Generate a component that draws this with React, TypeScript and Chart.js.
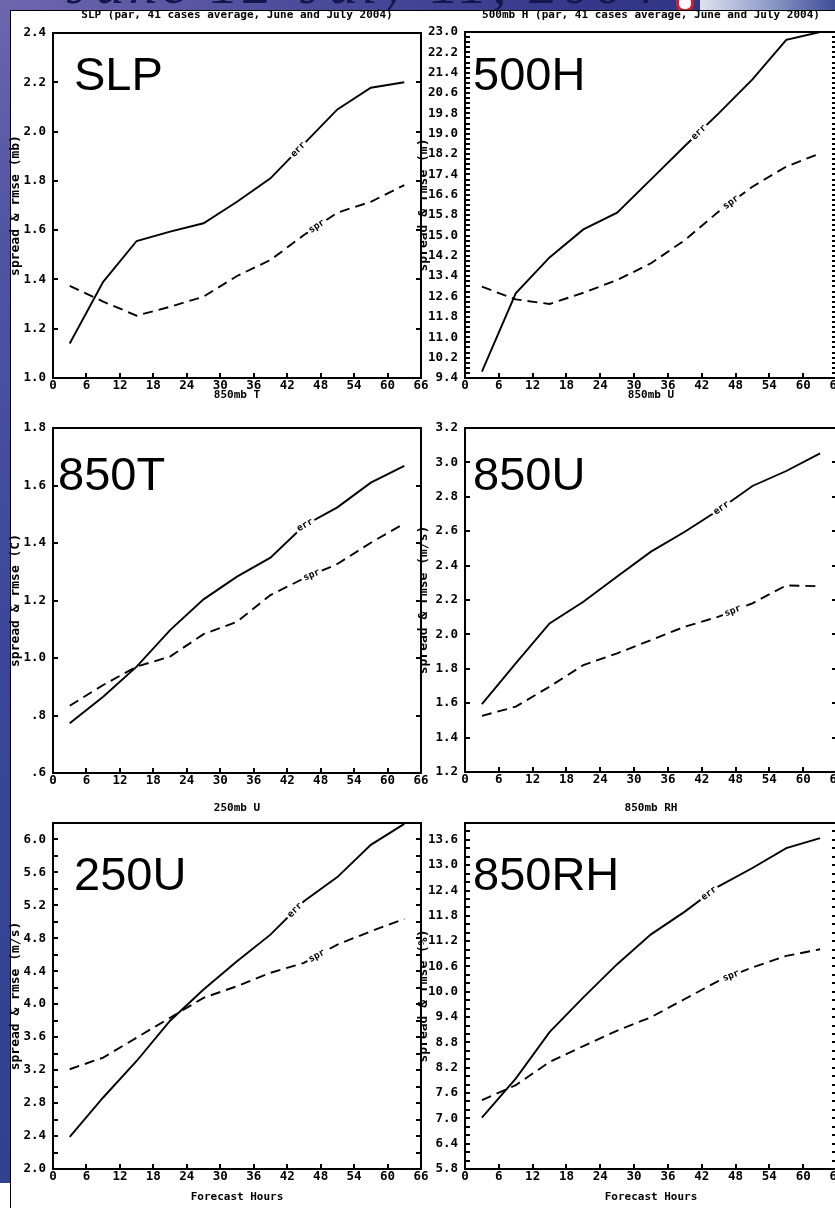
import React, { useEffect, useRef } from "react";
import { Chart, registerables } from "chart.js";

Chart.register(...registerables);

// ---------- data ----------
const forecastHours = [3, 9, 15, 21, 27, 33, 39, 45, 51, 57, 63];
const hourTicks = [0, 6, 12, 18, 24, 30, 36, 42, 48, 54, 60, 66];

const slpErr = [1.14, 1.39, 1.556, 1.594, 1.628, 1.715, 1.81, 1.95, 2.09, 2.178, 2.2];
const slpSpr = [1.374, 1.31, 1.253, 1.289, 1.33, 1.414, 1.479, 1.58, 1.671, 1.715, 1.783];
const slpTicks = [1.0, 1.2, 1.4, 1.6, 1.8, 2.0, 2.2, 2.4];

const h500Err = [9.65, 12.73, 14.14, 15.24, 15.9, 17.21, 18.52, 19.8, 21.14, 22.69, 23.0];
const h500Spr = [12.99, 12.49, 12.31, 12.75, 13.25, 13.91, 14.82, 15.94, 16.92, 17.71, 18.23];
const h500Ticks = [9.4, 10.2, 11.0, 11.8, 12.6, 13.4, 14.2, 15.0, 15.8, 16.6, 17.4, 18.2, 19.0, 19.8, 20.6, 21.4, 22.2, 23.0];

const t850Err = [0.773, 0.865, 0.97, 1.097, 1.204, 1.283, 1.349, 1.46, 1.524, 1.61, 1.668];
const t850Spr = [0.834, 0.906, 0.97, 1.005, 1.083, 1.126, 1.219, 1.277, 1.327, 1.401, 1.468];
const t850Ticks = [0.6, 0.8, 1.0, 1.2, 1.4, 1.6, 1.8];

const u850Err = [1.595, 1.832, 2.064, 2.19, 2.336, 2.481, 2.597, 2.723, 2.863, 2.95, 3.053];
const u850Spr = [1.526, 1.58, 1.696, 1.822, 1.89, 1.967, 2.045, 2.103, 2.181, 2.285, 2.28];
const u850Ticks = [1.2, 1.4, 1.6, 1.8, 2.0, 2.2, 2.4, 2.6, 2.8, 3.0, 3.2];

const u250Err = [2.39, 2.868, 3.311, 3.8, 4.179, 4.522, 4.845, 5.249, 5.543, 5.935, 6.19];
const u250Spr = [3.211, 3.352, 3.594, 3.836, 4.078, 4.219, 4.381, 4.502, 4.724, 4.885, 5.035];
const u250Ticks = [2.0, 2.4, 2.8, 3.2, 3.6, 4.0, 4.4, 4.8, 5.2, 5.6, 6.0];

const rh850Err = [7.016, 7.943, 9.044, 9.869, 10.654, 11.361, 11.9, 12.5, 12.933, 13.405, 13.641];
const rh850Spr = [7.431, 7.785, 8.337, 8.714, 9.082, 9.397, 9.829, 10.26, 10.576, 10.85, 11.007];
const rh850Ticks = [5.8, 6.4, 7.0, 7.6, 8.2, 8.8, 9.4, 10.0, 10.6, 11.2, 11.8, 12.4, 13.0, 13.6];

// ---------- styles / layout ----------
const MONO = '"DejaVu Sans Mono", "Liberation Mono", monospace';
const SANS = '"Liberation Sans", Arial, sans-serif';
const TITLE_SIZE = 11;
const TITLE_LH = TITLE_SIZE * 1.2;
const TICK_SIZE = 12.5;

type Box = { x: number; y: number; w: number; h: number };
type Plot = { l: number; t: number; r: number; b: number };
type Panel = {
  name: string;
  title: string;
  yTitle: string;
  xTitle?: string;
  err: number[];
  spr: number[];
  yMin: number;
  yMax: number;
  yTicks: number[];
  minorStep: number | null;
  canvas: Box;
  plot: Plot;
  titleY: number;
  nameX: number;
  nameY: number;
  errAt: number;
  sprAt: number;
};

const panels: Panel[] = [
  {
    name: "SLP", title: "SLP (par, 41 cases average, June and July 2004)", yTitle: "spread & rmse (mb)",
    err: slpErr, spr: slpSpr, yMin: 1.0, yMax: 2.4, yTicks: slpTicks, minorStep: null,
    canvas: { x: 8, y: 2, w: 424, h: 402 }, plot: { l: 53, t: 33, r: 421, b: 378 }, titleY: 15,
    nameX: 74, nameY: 90, errAt: 44, sprAt: 47.3,
  },
  {
    name: "500H", title: "500mb H (par, 41 cases average, June and July 2004)", yTitle: "spread & rmse (m)",
    err: h500Err, spr: h500Spr, yMin: 9.4, yMax: 23.0, yTicks: h500Ticks, minorStep: 0.2,
    canvas: { x: 416, y: 2, w: 434, h: 402 }, plot: { l: 465, t: 32, r: 837, b: 378 }, titleY: 15,
    nameX: 473, nameY: 90, errAt: 41.5, sprAt: 47.2,
  },
  {
    name: "850T", title: "850mb T", yTitle: "spread & rmse (C)",
    err: t850Err, spr: t850Spr, yMin: 0.6, yMax: 1.8, yTicks: t850Ticks, minorStep: null,
    canvas: { x: 8, y: 384, w: 424, h: 416 }, plot: { l: 53, t: 428, r: 421, b: 773 }, titleY: 395,
    nameX: 58, nameY: 490, errAt: 45.2, sprAt: 46.4,
  },
  {
    name: "850U", title: "850mb U", yTitle: "spread & rmse (m/s)",
    err: u850Err, spr: u850Spr, yMin: 1.2, yMax: 3.2, yTicks: u850Ticks, minorStep: null,
    canvas: { x: 416, y: 384, w: 434, h: 416 }, plot: { l: 465, t: 428, r: 837, b: 772 }, titleY: 395,
    nameX: 473, nameY: 490, errAt: 45.5, sprAt: 47.5,
  },
  {
    name: "250U", title: "250mb U", yTitle: "spread & rmse (m/s)", xTitle: "Forecast Hours",
    err: u250Err, spr: u250Spr, yMin: 2.0, yMax: 6.2, yTicks: u250Ticks, minorStep: 0.2,
    canvas: { x: 8, y: 795, w: 424, h: 413 }, plot: { l: 53, t: 823, r: 421, b: 1169 }, titleY: 808,
    nameX: 74, nameY: 890, errAt: 43.4, sprAt: 47.3,
  },
  {
    name: "850RH", title: "850mb RH", yTitle: "spread & rmse (%)", xTitle: "Forecast Hours",
    err: rh850Err, spr: rh850Spr, yMin: 5.8, yMax: 14.0, yTicks: rh850Ticks, minorStep: 0.2,
    canvas: { x: 416, y: 795, w: 434, h: 413 }, plot: { l: 465, t: 823, r: 837, b: 1169 }, titleY: 808,
    nameX: 473, nameY: 890, errAt: 43.3, sprAt: 47.2,
  },
];

const fmtTick = (v: number) => v.toFixed(1).replace(/^0\./, ".");

function drawLineLabel(chart: any, dsIndex: number, hour: number, text: string) {
  const { ctx } = chart;
  const pts = chart.data.datasets[dsIndex].data as { x: number; y: number }[];
  const xs = chart.scales.x;
  const ys = chart.scales.y;
  let i = 0;
  while (i < pts.length - 2 && pts[i + 1].x < hour) i++;
  const a = pts[i];
  const b = pts[i + 1];
  const t = (hour - a.x) / (b.x - a.x);
  const v = a.y + t * (b.y - a.y);
  const px = xs.getPixelForValue(hour);
  const py = ys.getPixelForValue(v);
  const ang = Math.atan2(
    ys.getPixelForValue(b.y) - ys.getPixelForValue(a.y),
    xs.getPixelForValue(b.x) - xs.getPixelForValue(a.x)
  );
  ctx.save();
  ctx.translate(px, py);
  ctx.rotate(ang);
  ctx.font = `bold 9.5px ${MONO}`;
  const w = ctx.measureText(text).width;
  ctx.fillStyle = "#fff";
  ctx.fillRect(-w / 2 - 2, -4.5, w + 4, 9);
  ctx.fillStyle = "#000";
  ctx.textAlign = "center";
  ctx.textBaseline = "middle";
  ctx.fillText(text, 0, 0);
  ctx.restore();
}

function makeChart(canvas: HTMLCanvasElement, p: Panel) {
  const yW = p.plot.l - p.canvas.x;
  const xH = p.canvas.y + p.canvas.h - p.plot.b;
  const padRight = p.canvas.x + p.canvas.w - p.plot.r;
  const tPadTop = p.titleY - p.canvas.y - TITLE_LH / 2;
  const tPadBottom = p.plot.t - p.canvas.y - tPadTop - TITLE_LH;

  const framePlugin = {
    id: "frameTicks",
    afterDraw(chart: any) {
      const { ctx, chartArea: a, scales } = chart;
      ctx.save();
      ctx.strokeStyle = "#000";
      ctx.lineWidth = 2;
      ctx.beginPath();
      for (const v of hourTicks) {
        if (v <= 0 || v >= 66) continue;
        const px = Math.round(scales.x.getPixelForValue(v));
        ctx.moveTo(px, a.bottom);
        ctx.lineTo(px, a.bottom - 5);
      }
      let yVals: number[] = p.yTicks;
      if (p.minorStep) {
        yVals = [];
        const n = Math.round((p.yMax - p.yMin) / p.minorStep);
        for (let k = 0; k <= n; k++) yVals.push(p.yMin + k * p.minorStep);
      }
      for (const v of yVals) {
        const py = Math.round(scales.y.getPixelForValue(v));
        if (py <= a.top + 1 || py >= a.bottom - 1) continue;
        ctx.moveTo(a.left, py);
        ctx.lineTo(a.left + 5, py);
        ctx.moveTo(a.right, py);
        ctx.lineTo(a.right - 5, py);
      }
      ctx.stroke();
      ctx.strokeRect(a.left, a.top, a.right - a.left, a.bottom - a.top);
      ctx.restore();
    },
    afterDatasetsDraw(chart: any) {
      const { ctx } = chart;
      drawLineLabel(chart, 0, p.errAt, "err");
      drawLineLabel(chart, 1, p.sprAt, "spr");
      ctx.save();
      ctx.font = `47px ${SANS}`;
      ctx.fillStyle = "#000";
      ctx.textAlign = "left";
      ctx.textBaseline = "alphabetic";
      ctx.fillText(p.name, p.nameX - p.canvas.x, p.nameY - p.canvas.y);
      ctx.restore();
    },
  };

  return new Chart(canvas, {
    type: "line",
    data: {
      datasets: [
        {
          label: "err",
          data: forecastHours.map((h, i) => ({ x: h, y: p.err[i] })),
          borderColor: "#000",
          borderWidth: 1.9,
          pointRadius: 0,
          tension: 0,
          fill: false,
        },
        {
          label: "spr",
          data: forecastHours.map((h, i) => ({ x: h, y: p.spr[i] })),
          borderColor: "#000",
          borderWidth: 1.9,
          borderDash: [10, 6],
          pointRadius: 0,
          tension: 0,
          fill: false,
        },
      ],
    },
    options: {
      animation: false,
      responsive: false,
      maintainAspectRatio: false,
      devicePixelRatio: 1,
      layout: { padding: { left: 0, top: 0, right: padRight, bottom: 0 } },
      plugins: {
        legend: { display: false },
        tooltip: { enabled: false },
        title: {
          display: true,
          text: p.title,
          fullSize: false,
          color: "#000",
          font: { family: MONO, size: TITLE_SIZE, weight: "bold" },
          padding: { top: tPadTop, bottom: tPadBottom },
        },
      },
      scales: {
        x: {
          type: "linear",
          min: 0,
          max: 66,
          afterBuildTicks: (s: any) => {
            s.ticks = hourTicks.map((v) => ({ value: v }));
          },
          afterFit: (s: any) => {
            s.height = xH;
          },
          grid: { display: false, drawTicks: false },
          border: { display: false },
          ticks: {
            color: "#000",
            font: { family: MONO, size: TICK_SIZE, weight: "bold" },
            padding: 0,
            maxRotation: 0,
            autoSkip: false,
            callback: (v: any) => String(v),
          },
          title: p.xTitle
            ? {
                display: true,
                text: p.xTitle,
                color: "#000",
                font: { family: MONO, size: TITLE_SIZE, weight: "bold" },
                padding: { top: 0, bottom: 4.4 },
              }
            : { display: false },
        },
        y: {
          type: "linear",
          min: p.yMin,
          max: p.yMax,
          afterBuildTicks: (s: any) => {
            s.ticks = p.yTicks.map((v) => ({ value: v }));
          },
          afterFit: (s: any) => {
            s.width = yW;
          },
          grid: { display: false, drawTicks: false },
          border: { display: false },
          ticks: {
            color: "#000",
            font: { family: MONO, size: TICK_SIZE, weight: "bold" },
            padding: 7,
            autoSkip: false,
            callback: (v: any) => fmtTick(Number(v)),
          },
          title: {
            display: true,
            text: p.yTitle,
            color: "#000",
            font: { family: MONO, size: 13, weight: "bold" },
            padding: { top: 0, bottom: 0 },
          },
        },
      },
    } as any,
    plugins: [framePlugin],
  });
}

function PanelChart({ p }: { p: Panel }) {
  const ref = useRef<HTMLCanvasElement>(null);
  useEffect(() => {
    if (!ref.current) return;
    const chart = makeChart(ref.current, p);
    return () => chart.destroy();
  }, [p]);
  return (
    <canvas
      ref={ref}
      width={p.canvas.w}
      height={p.canvas.h}
      style={{
        position: "absolute",
        left: p.canvas.x,
        top: p.canvas.y,
        width: p.canvas.w,
        height: p.canvas.h,
      }}
    />
  );
}

export default function App() {
  return (
    <div
      style={{
        position: "absolute",
        left: 0,
        top: 0,
        width: 835,
        height: 1208,
        overflow: "hidden",
        background: "#fff",
      }}
    >
      <div
        style={{
          position: "absolute",
          left: 0,
          top: 0,
          width: 835,
          height: 11,
          background: "linear-gradient(90deg, #6f66ad 0%, #4d4c9c 35%, #34388a 70%, #2c3282 100%)",
        }}
      />
      <div
        style={{
          position: "absolute",
          left: 0,
          top: 0,
          width: 11,
          height: 1183,
          background: "linear-gradient(180deg, #6d66ac 0%, #4f54a2 20%, #3a4798 55%, #30418f 100%)",
        }}
      />
      <div style={{ position: "absolute", left: 0, top: 0, width: 835, height: 10, overflow: "hidden" }}>
        <div
          style={{
            position: "absolute",
            left: 66,
            top: -45,
            fontFamily: '"Liberation Serif", serif',
            fontSize: 58,
            lineHeight: 1,
            fontStyle: "italic",
            color: "#16164e",
            whiteSpace: "nowrap",
            letterSpacing: 4,
          }}
        >
          June 12-July 11, 2004
        </div>
        <div
          style={{
            position: "absolute",
            left: 676,
            top: -6,
            width: 12,
            height: 12,
            borderRadius: 8,
            border: "3px solid #d02030",
            background: "#fff",
          }}
        />
        <div
          style={{
            position: "absolute",
            left: 700,
            top: 0,
            width: 135,
            height: 10,
            background: "linear-gradient(90deg, #dfe3ef, #8e9cc8 50%, #3f4e98)",
          }}
        />
      </div>
      <div
        style={{
          position: "absolute",
          left: 10,
          top: 10,
          width: 840,
          height: 1210,
          background: "#fff",
          borderTop: "1px solid #000",
          borderLeft: "1px solid #000",
        }}
      />
      {panels.map((p) => (
        <PanelChart key={p.name} p={p} />
      ))}
    </div>
  );
}
